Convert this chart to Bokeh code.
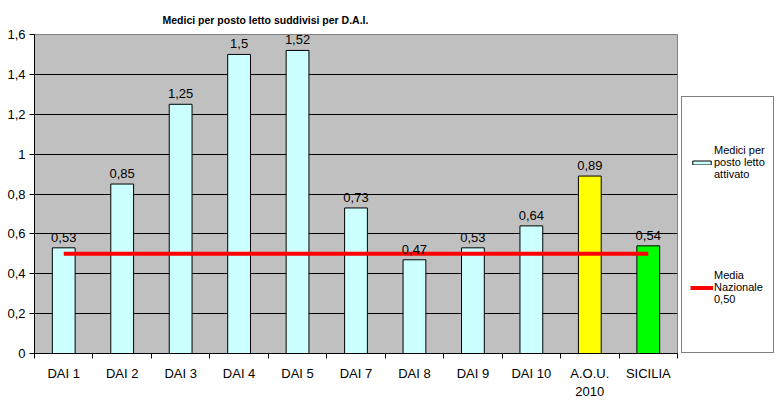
from bokeh.plotting import figure
from bokeh.layouts import row
from bokeh.models import (ColumnDataSource, Range1d, LinearAxis, CategoricalAxis, FixedTicker,
                          CustomJSTickFormatter, LabelSet, Legend, LegendItem, Title)
from bokeh.core.properties import value
from bokeh.embed import file_html
from bokeh.resources import INLINE

# ---- data ----
categories = ["DAI 1", "DAI 2", "DAI 3", "DAI 4", "DAI 5", "DAI 7", "DAI 8", "DAI 9", "DAI 10",
              "A.O.U.\n2010", "SICILIA"]
medici_per_posto = [0.53, 0.85, 1.25, 1.50, 1.52, 0.73, 0.47, 0.53, 0.64, 0.89, 0.54]
media_nazionale = 0.50
y_ticks = [0, 0.2, 0.4, 0.6, 0.8, 1.0, 1.2, 1.4, 1.6]
title_text = "Medici per posto letto suddivisi per D.A.I."
series_label = "Medici per\nposto letto\nattivato"
media_label = "Media\nNazionale\n0,50"

bar_colors = ["#CCFFFF"] * 9 + ["#FFFF00", "#00FF00"]
SERIES_COLOR = "#CCFFFF"
MEDIA_COLOR = "#FF0000"

FONT = "Liberation Sans"

src = ColumnDataSource(dict(
    cat=categories,
    val=medici_per_posto,
    color=bar_colors,
    txt=[("%g" % v).replace(".", ",") for v in medici_per_posto],
))
line_src = ColumnDataSource(dict(cat=categories, val=[media_nazionale] * len(categories)))

p = figure(width=680, height=403, x_range=categories, y_range=Range1d(0, y_ticks[-1]),
           output_backend="svg", toolbar_location=None, x_axis_location=None,
           min_border_left=34, min_border_right=3, min_border_top=34, min_border_bottom=50)
p.x_range.range_padding = 0

p.background_fill_color = "#C0C0C0"
p.border_fill_color = "white"
p.outline_line_color = "#808080"
p.outline_line_width = 1

# title
p.title = Title(text=title_text, align="left", offset=128,
                text_font=FONT, text_font_size="10.5px",
                text_font_style="bold", text_color="black", standoff=18)

# y axis
ya = p.yaxis[0]
ya.ticker = FixedTicker(ticks=y_ticks)
ya.formatter = CustomJSTickFormatter(code="return String(tick).replace('.', ',');")
ya.major_tick_out = 5
ya.major_tick_in = 0
ya.minor_tick_line_color = None
ya.axis_line_color = "black"
ya.major_tick_line_color = "black"
ya.major_label_text_font = FONT
ya.major_label_text_font_size = "13px"
ya.major_label_text_color = "black"
ya.major_label_standoff = 4

p.ygrid.ticker = FixedTicker(ticks=y_ticks[1:-1])
p.ygrid.grid_line_color = "black"
p.ygrid.grid_line_width = 1
p.xgrid.grid_line_color = None

# boundary ticks between categories (synthetic coordinates of the factor range)
n = len(categories)
tick_axis = LinearAxis(ticker=FixedTicker(ticks=list(range(n + 1))))
tick_axis.formatter = CustomJSTickFormatter(code="return '';")
tick_axis.major_tick_out = 5
tick_axis.major_tick_in = 0
tick_axis.minor_tick_line_color = None
tick_axis.axis_line_color = "black"
tick_axis.major_tick_line_color = "black"
tick_axis.major_label_text_font_size = "1px"
tick_axis.major_label_standoff = 0
p.add_layout(tick_axis, "below")

cat_axis = CategoricalAxis()
cat_axis.axis_line_color = None
cat_axis.major_tick_line_color = None
cat_axis.major_tick_out = 0
cat_axis.major_tick_in = 0
cat_axis.major_label_standoff = 7
cat_axis.major_label_text_font = FONT
cat_axis.major_label_text_font_size = "13px"
cat_axis.major_label_text_color = "black"
p.add_layout(cat_axis, "below")

# bars
bars = p.vbar(x="cat", top="val", width=0.39, source=src, fill_color="color",
              line_color="black", line_width=1)

# media line
media = p.line(x="cat", y="val", source=line_src, line_color=MEDIA_COLOR, line_width=4)

# value labels
labels = LabelSet(x="cat", y="val", text="txt", source=src, text_align="center",
                  text_baseline="bottom", y_offset=6, text_font=value(FONT),
                  text_font_size=value("13px"), text_color=value("black"))
p.add_layout(labels)

# ---- legend panel ----
lg = figure(width=99, height=403, x_range=Range1d(0, 1), y_range=Range1d(0, 1),
            output_backend="svg", toolbar_location=None, x_axis_location=None,
            y_axis_location=None, min_border=0)
lg.grid.visible = False
lg.outline_line_color = None
lg.background_fill_color = "white"
lg.border_fill_color = "white"
# swatch renderers kept outside the visible range: only their legend glyphs show
sw_bar = lg.vbar(x=[5], top=[1], width=0.5, fill_color=SERIES_COLOR, line_color="black",
                 line_width=1)
sw_line = lg.line(x=[5, 6], y=[0, 0], line_color=MEDIA_COLOR, line_width=4)

legend = Legend(items=[LegendItem(label=series_label, renderers=[sw_bar]),
                       LegendItem(label=media_label, renderers=[sw_line])],
                location=(1, 0), orientation="vertical",
                border_line_color="black", border_line_width=1,
                background_fill_color="white", background_fill_alpha=1,
                padding=8, spacing=11, margin=0, label_height=114,
                glyph_width=23, glyph_height=5, label_standoff=1,
                label_text_font=FONT, label_text_font_size="11px",
                label_text_color="black", label_text_line_height=1.2)
lg.add_layout(legend)

layout = row(p, lg, spacing=0)
open("out.html", "w").write(file_html(layout, INLINE))
